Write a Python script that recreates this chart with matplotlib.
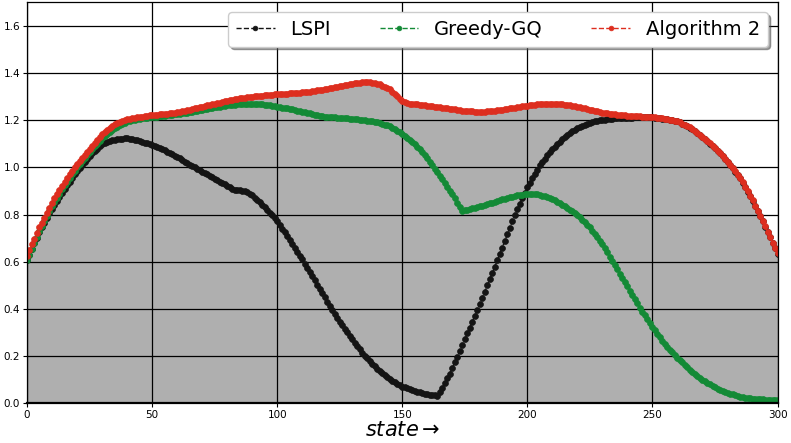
import matplotlib
matplotlib.use("Agg")
import matplotlib.pyplot as plt
import numpy as np

states = list(range(0, 301))

lspi = [
    0.605, 0.629, 0.653, 0.677, 0.701, 0.725, 0.745, 0.765, 0.785, 0.805,
    0.825, 0.842, 0.859, 0.876, 0.893, 0.910, 0.925, 0.940, 0.955, 0.970,
    0.985, 0.998, 1.011, 1.024, 1.037, 1.050, 1.061, 1.071, 1.080, 1.089,
    1.098, 1.104, 1.109, 1.113, 1.116, 1.118, 1.120, 1.121, 1.122, 1.123,
    1.123, 1.122, 1.120, 1.117, 1.115, 1.112, 1.109, 1.105, 1.102, 1.098,
    1.095, 1.090, 1.086, 1.081, 1.077, 1.072, 1.067, 1.061, 1.056, 1.050,
    1.045, 1.038, 1.032, 1.025, 1.019, 1.012, 1.006, 1.000, 0.994, 0.988,
    0.982, 0.976, 0.970, 0.964, 0.958, 0.952, 0.946, 0.940, 0.934, 0.928,
    0.922, 0.916, 0.910, 0.904, 0.903, 0.902, 0.900, 0.898, 0.895, 0.889,
    0.882, 0.872, 0.862, 0.852, 0.842, 0.832, 0.820, 0.808, 0.796, 0.784,
    0.772, 0.756, 0.740, 0.724, 0.708, 0.692, 0.676, 0.659, 0.643, 0.626,
    0.610, 0.592, 0.574, 0.556, 0.538, 0.520, 0.502, 0.484, 0.466, 0.448,
    0.430, 0.413, 0.396, 0.379, 0.362, 0.345, 0.330, 0.315, 0.300, 0.285,
    0.270, 0.256, 0.242, 0.228, 0.214, 0.200, 0.189, 0.178, 0.167, 0.156,
    0.145, 0.136, 0.127, 0.118, 0.109, 0.100, 0.094, 0.088, 0.082, 0.076,
    0.070, 0.066, 0.062, 0.058, 0.054, 0.050, 0.048, 0.045, 0.043, 0.040,
    0.038, 0.036, 0.034, 0.032, 0.030, 0.045, 0.065, 0.085, 0.105, 0.125,
    0.148, 0.172, 0.196, 0.220, 0.245, 0.270, 0.295, 0.320, 0.345, 0.370,
    0.395, 0.421, 0.447, 0.473, 0.499, 0.525, 0.552, 0.579, 0.606, 0.633,
    0.660, 0.688, 0.716, 0.744, 0.772, 0.800, 0.823, 0.846, 0.869, 0.892,
    0.915, 0.934, 0.953, 0.972, 0.991, 1.010, 1.024, 1.037, 1.051, 1.064,
    1.078, 1.088, 1.099, 1.109, 1.120, 1.130, 1.138, 1.145, 1.153, 1.160,
    1.168, 1.172, 1.177, 1.181, 1.186, 1.190, 1.192, 1.195, 1.197, 1.200,
    1.202, 1.203, 1.204, 1.206, 1.207, 1.208, 1.209, 1.209, 1.210, 1.210,
    1.211, 1.211, 1.211, 1.212, 1.212, 1.212, 1.212, 1.212, 1.212, 1.212,
    1.212, 1.211, 1.210, 1.208, 1.207, 1.206, 1.204, 1.202, 1.200, 1.198,
    1.196, 1.191, 1.185, 1.180, 1.174, 1.169, 1.161, 1.153, 1.145, 1.137,
    1.129, 1.120, 1.110, 1.101, 1.091, 1.082, 1.070, 1.059, 1.047, 1.036,
    1.024, 1.010, 0.996, 0.982, 0.968, 0.954, 0.935, 0.916, 0.897, 0.878,
    0.859, 0.837, 0.815, 0.793, 0.771, 0.749, 0.726, 0.703, 0.680, 0.657,
    0.634,
]

greedy_gq = [
    0.605, 0.630, 0.655, 0.680, 0.705, 0.730, 0.751, 0.772, 0.793, 0.814,
    0.835, 0.853, 0.871, 0.889, 0.907, 0.925, 0.940, 0.955, 0.970, 0.985,
    1.000, 1.013, 1.026, 1.039, 1.052, 1.065, 1.077, 1.089, 1.101, 1.113,
    1.125, 1.134, 1.142, 1.151, 1.159, 1.168, 1.173, 1.179, 1.184, 1.190,
    1.195, 1.197, 1.200, 1.202, 1.205, 1.207, 1.208, 1.210, 1.211, 1.213,
    1.214, 1.215, 1.216, 1.218, 1.219, 1.220, 1.221, 1.222, 1.224, 1.225,
    1.226, 1.228, 1.230, 1.231, 1.233, 1.235, 1.237, 1.239, 1.241, 1.243,
    1.245, 1.247, 1.249, 1.251, 1.253, 1.255, 1.257, 1.258, 1.260, 1.261,
    1.263, 1.264, 1.265, 1.266, 1.267, 1.268, 1.268, 1.269, 1.269, 1.270,
    1.270, 1.269, 1.268, 1.268, 1.267, 1.266, 1.264, 1.263, 1.261, 1.260,
    1.258, 1.256, 1.254, 1.252, 1.250, 1.248, 1.246, 1.243, 1.241, 1.238,
    1.236, 1.234, 1.231, 1.229, 1.226, 1.224, 1.222, 1.220, 1.218, 1.216,
    1.214, 1.213, 1.212, 1.212, 1.211, 1.210, 1.209, 1.208, 1.208, 1.207,
    1.206, 1.205, 1.204, 1.202, 1.201, 1.200, 1.199, 1.197, 1.196, 1.194,
    1.193, 1.189, 1.186, 1.182, 1.179, 1.175, 1.168, 1.162, 1.155, 1.149,
    1.142, 1.134, 1.125, 1.117, 1.108, 1.100, 1.088, 1.076, 1.064, 1.052,
    1.040, 1.025, 1.010, 0.995, 0.980, 0.965, 0.949, 0.933, 0.917, 0.901,
    0.885, 0.868, 0.850, 0.833, 0.815, 0.818, 0.821, 0.824, 0.826, 0.829,
    0.832, 0.835, 0.838, 0.842, 0.845, 0.848, 0.851, 0.854, 0.858, 0.861,
    0.864, 0.867, 0.870, 0.873, 0.876, 0.879, 0.881, 0.883, 0.884, 0.886,
    0.888, 0.887, 0.887, 0.886, 0.885, 0.884, 0.880, 0.877, 0.873, 0.870,
    0.866, 0.860, 0.854, 0.847, 0.841, 0.835, 0.828, 0.821, 0.814, 0.807,
    0.800, 0.789, 0.778, 0.767, 0.756, 0.745, 0.731, 0.717, 0.703, 0.689,
    0.675, 0.657, 0.639, 0.621, 0.603, 0.585, 0.567, 0.549, 0.531, 0.513,
    0.495, 0.477, 0.459, 0.441, 0.423, 0.405, 0.388, 0.372, 0.355, 0.339,
    0.322, 0.308, 0.293, 0.279, 0.264, 0.250, 0.239, 0.227, 0.216, 0.204,
    0.193, 0.182, 0.172, 0.161, 0.151, 0.140, 0.132, 0.123, 0.115, 0.106,
    0.098, 0.092, 0.085, 0.079, 0.072, 0.066, 0.061, 0.057, 0.052, 0.048,
    0.043, 0.040, 0.037, 0.033, 0.030, 0.027, 0.025, 0.023, 0.022, 0.020,
    0.018, 0.017, 0.016, 0.016, 0.015, 0.014, 0.014, 0.013, 0.013, 0.012,
    0.012,
]

algorithm2 = [
    0.625, 0.649, 0.673, 0.697, 0.721, 0.745, 0.766, 0.787, 0.808, 0.829,
    0.850, 0.868, 0.886, 0.904, 0.922, 0.940, 0.955, 0.970, 0.985, 1.000,
    1.015, 1.028, 1.041, 1.054, 1.067, 1.080, 1.092, 1.104, 1.116, 1.128,
    1.140, 1.149, 1.158, 1.167, 1.176, 1.185, 1.189, 1.193, 1.197, 1.201,
    1.205, 1.207, 1.209, 1.211, 1.213, 1.215, 1.216, 1.218, 1.219, 1.221,
    1.222, 1.223, 1.224, 1.225, 1.226, 1.227, 1.228, 1.230, 1.231, 1.233,
    1.234, 1.236, 1.238, 1.241, 1.243, 1.245, 1.248, 1.250, 1.253, 1.255,
    1.258, 1.260, 1.263, 1.265, 1.268, 1.270, 1.272, 1.275, 1.277, 1.280,
    1.282, 1.284, 1.286, 1.289, 1.291, 1.293, 1.294, 1.296, 1.297, 1.299,
    1.300, 1.301, 1.302, 1.304, 1.305, 1.306, 1.307, 1.308, 1.309, 1.310,
    1.311, 1.312, 1.312, 1.313, 1.313, 1.314, 1.315, 1.316, 1.316, 1.317,
    1.318, 1.319, 1.321, 1.322, 1.324, 1.325, 1.327, 1.329, 1.330, 1.332,
    1.334, 1.336, 1.338, 1.341, 1.343, 1.345, 1.347, 1.349, 1.351, 1.353,
    1.355, 1.357, 1.358, 1.359, 1.361, 1.362, 1.362, 1.361, 1.359, 1.358,
    1.356, 1.352, 1.347, 1.342, 1.337, 1.332, 1.322, 1.312, 1.302, 1.292,
    1.282, 1.276, 1.272, 1.271, 1.269, 1.268, 1.267, 1.266, 1.264, 1.263,
    1.262, 1.261, 1.259, 1.258, 1.256, 1.255, 1.253, 1.252, 1.250, 1.249,
    1.247, 1.246, 1.244, 1.243, 1.241, 1.240, 1.239, 1.238, 1.238, 1.237,
    1.236, 1.236, 1.237, 1.237, 1.238, 1.238, 1.239, 1.241, 1.242, 1.244,
    1.245, 1.247, 1.249, 1.250, 1.252, 1.254, 1.256, 1.257, 1.259, 1.260,
    1.262, 1.263, 1.264, 1.266, 1.267, 1.268, 1.268, 1.269, 1.269, 1.270,
    1.270, 1.269, 1.268, 1.268, 1.267, 1.266, 1.264, 1.263, 1.261, 1.260,
    1.258, 1.255, 1.253, 1.250, 1.248, 1.245, 1.243, 1.240, 1.238, 1.235,
    1.233, 1.231, 1.230, 1.228, 1.227, 1.225, 1.224, 1.223, 1.222, 1.221,
    1.220, 1.219, 1.219, 1.218, 1.218, 1.217, 1.216, 1.215, 1.215, 1.214,
    1.213, 1.212, 1.211, 1.209, 1.208, 1.207, 1.205, 1.203, 1.201, 1.199,
    1.197, 1.192, 1.186, 1.181, 1.175, 1.170, 1.162, 1.154, 1.146, 1.138,
    1.130, 1.121, 1.111, 1.102, 1.092, 1.083, 1.071, 1.060, 1.048, 1.037,
    1.025, 1.011, 0.997, 0.983, 0.969, 0.955, 0.936, 0.917, 0.898, 0.879,
    0.860, 0.838, 0.816, 0.794, 0.772, 0.750, 0.727, 0.704, 0.681, 0.658,
    0.635,
]

series_names = ["LSPI", "Greedy-GQ", "Algorithm 2"]
series_colors = ["#141414", "#138a36", "#dd2e1f"]
x_ticks = [0, 50, 100, 150, 200, 250, 300]
y_ticks = [0.0, 0.2, 0.4, 0.6, 0.8, 1.0, 1.2, 1.4, 1.6]

fig = plt.figure(figsize=(7.91, 4.43), dpi=100)
ax = fig.add_axes([0.0341, 0.0903, 0.9489, 0.9041])

ax.fill_between(states, 0, algorithm2, color="#afafaf", linewidth=0, zorder=1)

for vals, name, col in zip([lspi, greedy_gq, algorithm2], series_names, series_colors):
    ax.plot(states, vals, linestyle="--", linewidth=1.0, marker=".",
            markersize=8.5, markeredgewidth=0.5, color=col, label=name, zorder=2)

ax.set_xlim(0, 300)
ax.set_ylim(0, 1.7)
ax.set_xticks(x_ticks)
ax.set_yticks(y_ticks)
ax.set_xticklabels([str(t) for t in x_ticks])
ax.set_yticklabels([f"{t:.1f}" for t in y_ticks])
ax.tick_params(labelsize=7.5, length=3, pad=2)

ax.set_axisbelow("line")
ax.grid(True, color="black", linewidth=0.9)

for sp in ax.spines.values():
    sp.set_color("black")
    sp.set_linewidth(0.9)
ax.spines["bottom"].set_linewidth(1.6)

ax.set_xlabel(r"$state\rightarrow$", fontsize=15, labelpad=0)

leg = ax.legend(loc="upper right", ncol=3, fontsize=14, shadow=True,
                columnspacing=2.5, handlelength=2.0, borderaxespad=0.5,
                markerscale=0.8)

fig.savefig("out.png", dpi=100)
